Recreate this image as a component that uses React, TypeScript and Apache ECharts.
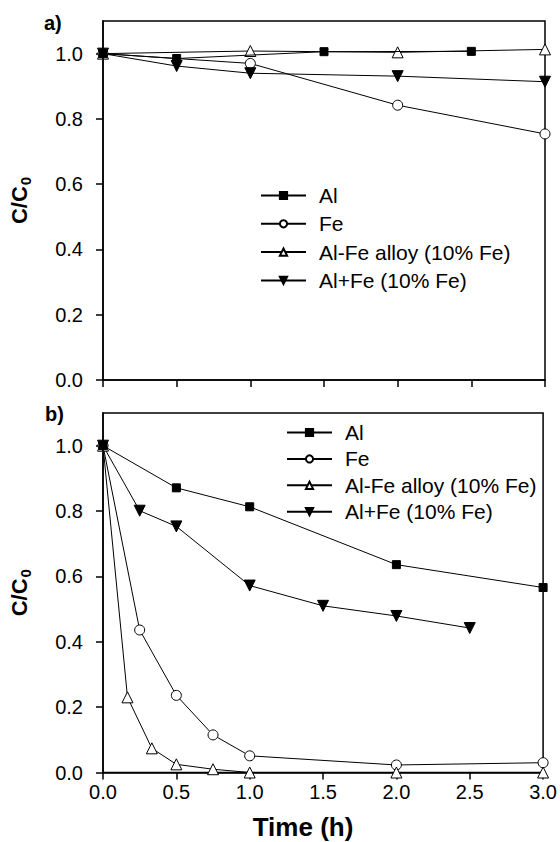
import React, { useEffect, useRef } from "react";
import * as echarts from "echarts";

const SERIES_NAMES = ["Al", "Fe", "Al-Fe alloy (10% Fe)", "Al+Fe (10% Fe)"];
const Y_TICKS = [0, 0.2, 0.4, 0.6, 0.8, 1.0];

// Panel a) [time (h), C/C0]
const alA = [[0, 1.0], [0.5, 0.985], [1.5, 1.006], [2.5, 1.007]];
const feA = [[0, 1.0], [1.0, 0.97], [2.0, 0.842], [3.0, 0.754]];
const alloyA = [[0, 1.0], [1.0, 1.008], [2.0, 1.004], [3.0, 1.013]];
const alFeA = [[0, 1.0], [0.5, 0.962], [1.0, 0.94], [2.0, 0.931], [3.0, 0.914]];

// Panel b)
const alB = [[0, 1.0], [0.5, 0.871], [1.0, 0.813], [2.0, 0.636], [3.0, 0.566]];
const feB = [[0, 1.0], [0.25, 0.436], [0.5, 0.236], [0.75, 0.115], [1.0, 0.051], [2.0, 0.023], [3.0, 0.03]];
const alloyB = [[0, 1.0], [0.167, 0.23], [0.333, 0.074], [0.5, 0.025], [0.75, 0.01], [1.0, 0.0], [2.0, 0.0], [3.0, 0.0]];
const alFeB = [[0, 1.0], [0.25, 0.801], [0.5, 0.753], [1.0, 0.572], [1.5, 0.51], [2.0, 0.479], [2.5, 0.442]];

const FONT = "Liberation Sans, Arial, sans-serif";

const markerStyles = [
  { symbol: "rect", symbolSize: 8, itemStyle: { color: "#000", borderColor: "#000", borderWidth: 1 } },
  { symbol: "circle", symbolSize: 10, itemStyle: { color: "#fff", borderColor: "#000", borderWidth: 1 } },
  { symbol: "triangle", symbolSize: 11, itemStyle: { color: "#fff", borderColor: "#000", borderWidth: 1 } },
  { symbol: "triangle", symbolSize: 11, symbolRotate: 180, itemStyle: { color: "#000", borderColor: "#000", borderWidth: 1 } },
];

function makeSeries(datasets: number[][][], axisIndex: number) {
  return datasets.map((data, i) => ({
    type: "line",
    name: SERIES_NAMES[i],
    xAxisIndex: axisIndex,
    yAxisIndex: axisIndex,
    data,
    ...markerStyles[i],
    showSymbol: true,
    lineStyle: { color: "#000", width: 1 },
    clip: false,
    z: 3 + (i === 0 ? 1 : 0),
  }));
}

function xAxis(gridIndex: number, showLabels: boolean) {
  return {
    type: "value",
    gridIndex,
    min: 0,
    max: 3,
    interval: 0.5,
    axisLine: { show: true, onZero: false, lineStyle: { color: "#000", width: 1.5 } },
    axisTick: { show: true, inside: false, length: 7, lineStyle: { color: "#000", width: 1.5 } },
    axisLabel: {
      show: showLabels,
      margin: 9,
      color: "#000",
      fontSize: 20,
      fontFamily: FONT,
      formatter: (v: number) => v.toFixed(1),
    },
    splitLine: { show: false },
  };
}

function yAxis(gridIndex: number) {
  return {
    type: "value",
    gridIndex,
    min: 0,
    max: 1.1,
    name: "{a|C/C}{b|0}",
    nameLocation: "middle",
    nameRotate: 90,
    nameGap: 70,
    nameTextStyle: {
      rich: {
        a: { fontSize: 22, fontWeight: "bold", fontFamily: FONT, color: "#000", lineHeight: 24 },
        b: { fontSize: 15, fontWeight: "bold", fontFamily: FONT, color: "#000", padding: [13, 0, 0, 1] },
      },
    },
    axisLine: { show: true, onZero: false, lineStyle: { color: "#000", width: 1.5 } },
    axisTick: { show: true, inside: false, length: 7, customValues: Y_TICKS, lineStyle: { color: "#000", width: 1.5 } },
    axisLabel: {
      margin: 20,
      color: "#000",
      fontSize: 20,
      fontFamily: FONT,
      customValues: Y_TICKS,
      formatter: (v: number) => v.toFixed(1),
    },
    splitLine: { show: false },
  };
}

function legend(left: number, top: number, gap: number) {
  return {
    orient: "vertical",
    left,
    top,
    padding: 0,
    itemGap: gap,
    itemWidth: 45,
    itemHeight: 9,
    selectedMode: false,
    data: SERIES_NAMES,
    textStyle: { fontSize: 21, fontFamily: FONT, color: "#000", padding: [0, 0, 0, 8], lineHeight: 20 },
  };
}

export default function App() {
  const ref = useRef<HTMLDivElement>(null);
  useEffect(() => {
    if (!ref.current) return;
    const chart = echarts.init(ref.current, undefined, { renderer: "svg" });
    chart.setOption({
      animation: false,
      backgroundColor: "#fff",
      grid: [
        { left: 103, top: 21, width: 442, height: 359, show: true, borderColor: "#000", borderWidth: 1.5, backgroundColor: "transparent" },
        { left: 103, top: 413, width: 442, height: 359.5, show: true, borderColor: "#000", borderWidth: 1.5, backgroundColor: "transparent" },
      ],
      xAxis: [xAxis(0, false), xAxis(1, true)],
      yAxis: [yAxis(0), yAxis(1)],
      legend: [legend(260, 185, 7.3), legend(286, 422, 5.4)],
      series: [
        ...makeSeries([alA, feA, alloyA, alFeA], 0),
        ...makeSeries([alB, feB, alloyB, alFeB], 1),
      ],
      graphic: [
        { type: "text", left: 44, top: 13, style: { text: "a)", fontSize: 20, fontWeight: "bold", fontFamily: FONT, fill: "#000" } },
        { type: "text", left: 45, top: 404, style: { text: "b)", fontSize: 20, fontWeight: "bold", fontFamily: FONT, fill: "#000" } },
        { type: "text", x: 303, y: 827, style: { text: "Time (h)", fontSize: 26, fontWeight: "bold", fontFamily: FONT, fill: "#000", align: "center", verticalAlign: "middle" } },
      ],
    });
    return () => chart.dispose();
  }, []);
  return <div ref={ref} style={{ position: "absolute", left: 0, top: 0, width: 560, height: 842 }} />;
}
